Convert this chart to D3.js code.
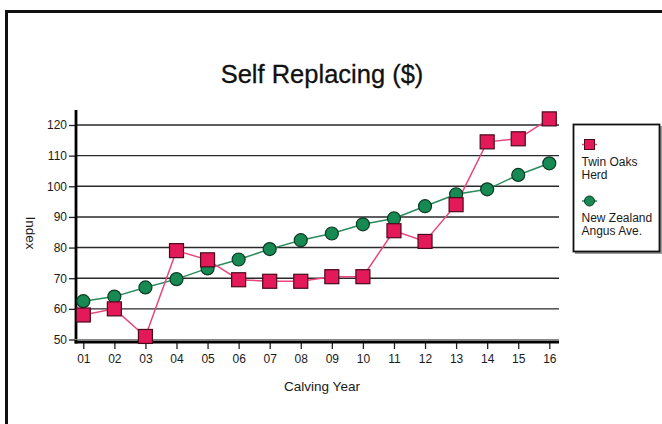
<!DOCTYPE html>
<html><head><meta charset="utf-8">
<script src="https://cdn.jsdelivr.net/npm/d3@7"></script>
<style>body{margin:0;background:#fff}svg{display:block}text{font-family:"Liberation Sans",Arial,Helvetica,sans-serif}</style>
</head><body>
<svg id="c" width="662" height="424"></svg>
<script>
const years = ["01","02","03","04","05","06","07","08","09","10","11","12","13","14","15","16"];
const twinOaks = [58,60,51,79,76,69.5,69,69,70.5,70.5,85.5,82,94,114.5,115.5,122];
const nzAngus = [62.5,64,67,69.7,73.2,76.1,79.5,82.4,84.6,87.6,89.5,93.5,97.4,99,103.7,107.5];
const yTicks = [50,60,70,80,90,100,110,120];
const seriesNames = [["Twin Oaks","Herd"],["New Zealand","Angus Ave."]];

const svg = d3.select("#c");
const red = "#e3195a", redLine = "#e8477c", green = "#168a52", greenLine = "#2a8a5c";

svg.append("rect").attr("x",6.5).attr("y",11.5).attr("width",670).attr("height",430)
  .attr("fill","#fff").attr("stroke","#111").attr("stroke-width",3);

const x = d3.scalePoint().domain(years).range([83.3,549.3]);
const y = d3.scaleLinear().domain([50,120]).range([339.5,125]);
const axL = 76, axR = 559, axB = 342;

svg.append("text").attr("x",322).attr("y",83).attr("text-anchor","middle")
  .attr("font-size",25.5).attr("fill","#111").attr("stroke","#111").attr("stroke-width",0.3)
  .text("Self Replacing ($)");

// gridlines
svg.append("g").selectAll("line").data(yTicks.filter(d=>d>50)).join("line")
  .attr("x1",axL).attr("x2",axR).attr("y1",d=>y(d)).attr("y2",d=>y(d))
  .attr("stroke","#2a2a2a").attr("stroke-width",1.4);

// y axis
const ya = svg.append("g").attr("transform",`translate(${axL},0)`)
  .call(d3.axisLeft(y).tickValues(yTicks).tickSize(7).tickPadding(2));
ya.select(".domain").remove();
ya.selectAll(".tick line").attr("stroke","#222").attr("stroke-width",1.3);
ya.selectAll(".tick text").attr("font-size",12).attr("fill","#1a1a1a").attr("font-family","Liberation Sans, Arial, sans-serif");
svg.append("line").attr("x1",axL).attr("x2",axL).attr("y1",110).attr("y2",axB+1.5)
  .attr("stroke","#000").attr("stroke-width",2.8);

// x axis
const xa = svg.append("g").attr("transform",`translate(0,${axB})`)
  .call(d3.axisBottom(x).tickSize(7).tickPadding(5));
xa.select(".domain").remove();
xa.selectAll(".tick line").attr("stroke","#222").attr("stroke-width",1.3);
xa.selectAll(".tick text").attr("font-size",12).attr("fill","#1a1a1a").attr("font-family","Liberation Sans, Arial, sans-serif");
svg.append("line").attr("x1",axL-1.4).attr("x2",axR).attr("y1",axB-2.5).attr("y2",axB-2.5)
  .attr("stroke","#888").attr("stroke-width",1.2);
svg.append("line").attr("x1",axL-1.4).attr("x2",axR).attr("y1",axB).attr("y2",axB)
  .attr("stroke","#000").attr("stroke-width",3.2);

svg.append("text").attr("x",322).attr("y",391).attr("text-anchor","middle")
  .attr("font-size",13.5).attr("fill","#1a1a1a").text("Calving Year");
svg.append("text").attr("transform","translate(26,233) rotate(90)").attr("text-anchor","middle")
  .attr("font-size",13.5).attr("fill","#1a1a1a").text("Index");

const line = d3.line().x((d,i)=>x(years[i])).y(d=>y(d));
svg.append("path").datum(nzAngus).attr("d",line).attr("fill","none").attr("stroke",greenLine).attr("stroke-width",1.5);
svg.append("path").datum(twinOaks).attr("d",line).attr("fill","none").attr("stroke",redLine).attr("stroke-width",1.5);

svg.append("g").selectAll("circle").data(nzAngus).join("circle")
  .attr("cx",(d,i)=>x(years[i])).attr("cy",d=>y(d)).attr("r",6.5)
  .attr("fill",green).attr("stroke","#0b3a22").attr("stroke-width",1.2);
svg.append("g").selectAll("rect").data(twinOaks).join("rect")
  .attr("x",(d,i)=>x(years[i])-7).attr("y",d=>y(d)-7).attr("width",14).attr("height",14)
  .attr("fill",red).attr("stroke","#4a0a1c").attr("stroke-width",1.2);

// legend
const lg = svg.append("g");
lg.append("rect").attr("x",575).attr("y",126).attr("width",87).attr("height",128).attr("fill","#999");
lg.append("rect").attr("x",573.5).attr("y",124.5).attr("width",86).attr("height",127)
  .attr("fill","#fff").attr("stroke","#111").attr("stroke-width",1.8);
lg.append("line").attr("x1",582).attr("x2",597).attr("y1",144.5).attr("y2",144.5).attr("stroke",redLine).attr("stroke-width",1.5);
lg.append("rect").attr("x",584.5).attr("y",139.5).attr("width",10).attr("height",10).attr("fill",red).attr("stroke","#4a0a1c").attr("stroke-width",1);
lg.append("line").attr("x1",582).attr("x2",597).attr("y1",201).attr("y2",201).attr("stroke",greenLine).attr("stroke-width",1.5);
lg.append("circle").attr("cx",589.5).attr("cy",201).attr("r",5).attr("fill",green).attr("stroke","#0b3a22").attr("stroke-width",1);
[[seriesNames[0],166],[seriesNames[1],222]].forEach(([names,by])=>{
  names.forEach((t,i)=>lg.append("text").attr("x",581.5).attr("y",by+i*12.5).attr("font-size",12).attr("fill","#1a1a1a").text(t));
});
</script>
</body></html>
